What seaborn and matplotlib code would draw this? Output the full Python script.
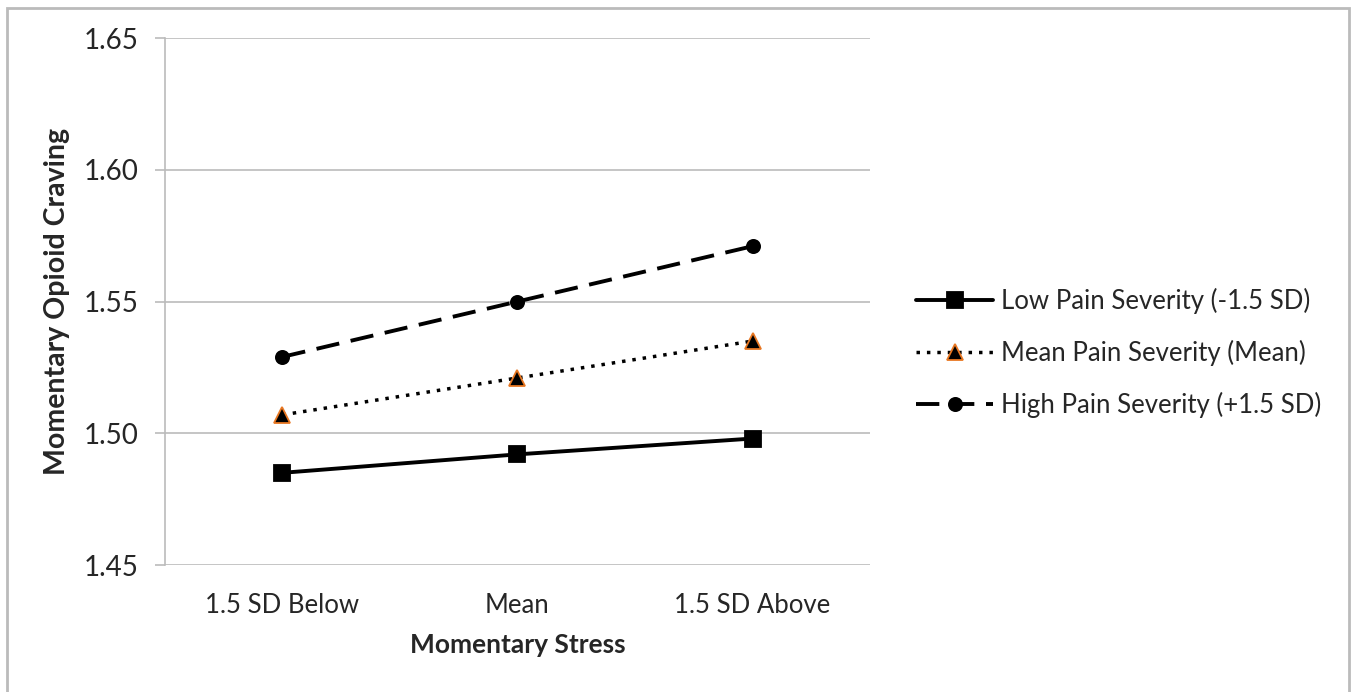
import numpy as np
import pandas as pd
import seaborn as sns
import matplotlib.pyplot as plt
from matplotlib.lines import Line2D
from matplotlib.patches import Rectangle

stress_levels = ['1.5 SD Below', 'Mean', '1.5 SD Above']
low_pain = [1.485, 1.492, 1.498]
mean_pain = [1.507, 1.521, 1.535]
high_pain = [1.529, 1.550, 1.571]
series_names = ['Low Pain Severity (-1.5 SD)', 'Mean Pain Severity (Mean)', 'High Pain Severity (+1.5 SD)']
y_ticks = [1.45, 1.50, 1.55, 1.60, 1.65]

df = pd.DataFrame({
    'stress': stress_levels * 3,
    'x': list(range(3)) * 3,
    'craving': low_pain + mean_pain + high_pain,
    'group': np.repeat(series_names, 3),
})

sns.set_style('white')
plt.rcParams['font.family'] = ['Lato', 'DejaVu Sans']

fig = plt.figure(figsize=(13.52, 6.92), dpi=100)
ax = fig.add_axes([0.122, 0.1835, 0.5215, 0.7615])

# one style per pain group
styles = {
    series_names[0]: dict(linestyle='-', marker='s', markersize=11, mec='black', lw=2.8),
    series_names[1]: dict(linestyle=(0, (1, 2)), marker='^', markersize=12, mec='#E87722', lw=2.5),
    series_names[2]: dict(linestyle=(0, (6, 3)), marker='o', markersize=9.5, mec='black', lw=2.8),
}
handles = []
for name in series_names:
    st = styles[name]
    sub = df[df['group'] == name]
    sns.lineplot(data=sub, x='x', y='craving', ax=ax, color='black', linestyle=st['linestyle'],
                 linewidth=st['lw'], marker=st['marker'], markersize=st['markersize'],
                 markeredgecolor=st['mec'], markeredgewidth=1.3, markerfacecolor='black',
                 legend=False, zorder=3)
    handles.append(Line2D([], [], color='black', linestyle=st['linestyle'], linewidth=st['lw'],
                          marker=st['marker'], markersize=st['markersize'], markerfacecolor='black',
                          markeredgecolor=st['mec'], markeredgewidth=1.3))

ax.set_xlim(-0.5, 2.5)
ax.set_ylim(1.45, 1.65)
ax.set_yticks(y_ticks)
ax.set_yticklabels([f'{v:.2f}' for v in y_ticks], fontsize=20)
ax.set_xticks(range(3))
ax.set_xticklabels(stress_levels, fontsize=18.5)
for v in y_ticks:
    ax.axhline(v, color='#BBBBBB', lw=1.2, zorder=1)

for side in ['top', 'right', 'bottom']:
    ax.spines[side].set_visible(False)
ax.spines['left'].set_color('#BBBBBB')
ax.spines['left'].set_linewidth(1.2)
ax.tick_params(axis='y', length=7, color='#BBBBBB', width=1.2, pad=12, left=True)
ax.tick_params(axis='x', length=0, pad=20)

ax.set_xlabel('Momentary Stress', fontsize=19, fontweight='bold', labelpad=11)
ax.set_ylabel('Momentary Opioid Craving', fontsize=20.5, fontweight='bold', labelpad=10)

leg = ax.legend(handles, series_names, loc='center left', bbox_to_anchor=(1.033, 0.4025),
                frameon=False, fontsize=18.5, handlelength=3.0, labelspacing=1.0, handletextpad=0.3)

# light frame around the figure
fig.patches.append(Rectangle((0.005, -0.02), 0.993, 1.008, transform=fig.transFigure,
                             fill=False, edgecolor='#BBBBBB', lw=2))

fig.savefig('out.png', dpi=100)
